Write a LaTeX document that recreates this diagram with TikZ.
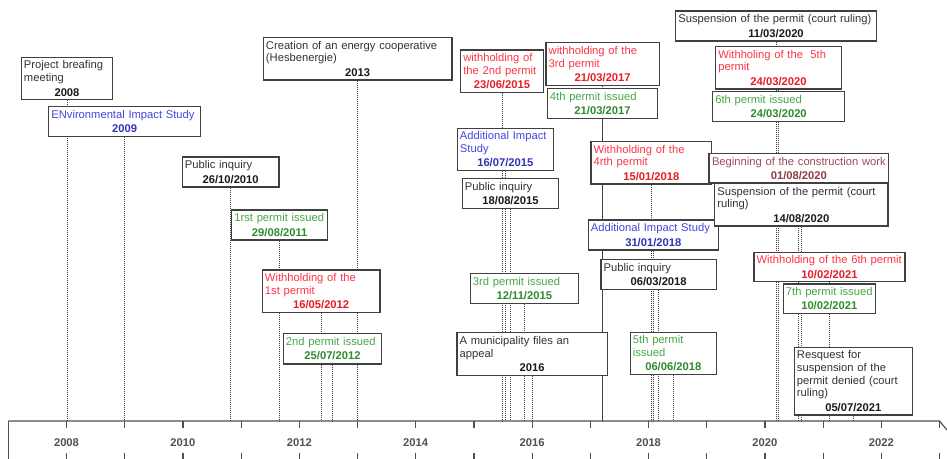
\documentclass[tikz,border=0pt]{standalone}
\usepackage{fontspec}
\setmainfont{Liberation Sans}
\pgfdeclarelayer{bg}
\pgfsetlayers{bg,main}
\definecolor{boxc}{HTML}{404040}
\definecolor{axc}{HTML}{505050}
\definecolor{tblack}{HTML}{333333}
\definecolor{dblack}{HTML}{1A1A1A}
\definecolor{tblue}{HTML}{4646DC}
\definecolor{dblue}{HTML}{3232B4}
\definecolor{tred}{HTML}{FF3344}
\definecolor{dred}{HTML}{E81C24}
\definecolor{tgreen}{HTML}{44A844}
\definecolor{dgreen}{HTML}{2E8B2E}
\definecolor{tbrown}{HTML}{A04858}
\definecolor{dbrown}{HTML}{903C44}
\newcommand\evbox[9]{%
  \pgfmathsetmacro\evw{(#4-#2)*0.75}%
  \pgfmathsetmacro\evh{(#5-#3)*0.75}%
  \pgfmathsetmacro\evtw{(#4-#2)*0.75-4}%
  \node[evt,text=#6,minimum width=\evw pt,minimum height=\evh pt,text width=\evtw pt]
    (#1) at ({(#2+#4)/2},{(#3+#5)/2}) {#8\par\vspace{1.3pt}{\centering\bfseries\color{#7}#9\par}};%
}
\begin{document}
\begin{tikzpicture}[x=0.75pt,y=-0.75pt,
  evt/.style={draw=boxc,fill=white,line width=0.85pt,rectangle,inner xsep=2pt,inner ysep=1pt,
    align=left,font=\fontsize{8.4}{9.5}\selectfont},
  dotline/.style={draw=boxc,line width=0.7pt,dash pattern=on 0.75pt off 0.75pt},
  axline/.style={draw=axc,line width=0.9pt},
  yearlab/.style={text=axc,font=\fontsize{8.4}{10}\selectfont\bfseries,inner sep=0pt}]
\useasboundingbox (0,0) rectangle (947,459);

% event boxes: name, left, top, right, bottom, text colour, date colour, text, date
\evbox{pbm}{21.3}{57.3}{112.7}{99.7}{tblack}{dblack}{Project breafing\\meeting}{2008}
\evbox{eis}{48.7}{106.7}{200.7}{136.7}{tblue}{dblue}{ENvironmental Impact Study}{2009}
\evbox{ceco}{263.3}{37.7}{452}{80}{tblack}{dblack}{Creation of an energy cooperative\\(Hesbenergie)}{2013}
\evbox{pia}{182.3}{157}{279}{187}{tblack}{dblack}{Public inquiry}{26/10/2010}
\evbox{pma}{231.7}{210}{327.7}{240}{tgreen}{dgreen}{1rst permit issued}{29/08/2011}
\evbox{wha}{262.3}{270}{380}{312.7}{tred}{dred}{Withholding of the\\1st permit}{16/05/2012}
\evbox{pmb}{283.3}{333.3}{381.7}{364}{tgreen}{dgreen}{2nd permit issued}{25/07/2012}
\evbox{whb}{460.7}{50}{543.3}{92.3}{tred}{dred}{withholding of\\the 2nd permit}{23/06/2015}
\evbox{aisa}{457.3}{128.3}{553.3}{170.7}{tblue}{dblue}{Additional Impact\\Study}{16/07/2015}
\evbox{pib}{462.3}{178.3}{558.7}{208.7}{tblack}{dblack}{Public inquiry}{18/08/2015}
\evbox{pmc}{470.3}{273.3}{578.3}{303.3}{tgreen}{dgreen}{3rd permit issued}{12/11/2015}
\evbox{mun}{457}{332.7}{607.3}{375.3}{tblack}{dblack}{A municipality files an\\appeal}{2016}
\evbox{whc}{546}{42.7}{659.3}{85.3}{tred}{dred}{withholding of the\\3rd permit}{21/03/2017}
\evbox{pmd}{547.3}{88.3}{657.7}{118.3}{tgreen}{dgreen}{4th permit issued}{21/03/2017}
\evbox{whd}{591}{141.7}{711.7}{184}{tred}{dred}{Withholding of the\\4rth permit}{15/01/2018}
\evbox{aisb}{588.3}{220}{718.3}{250}{tblue}{dblue}{Additional Impact Study}{31/01/2018}
\evbox{pic}{601}{259.3}{716.3}{289.3}{tblack}{dblack}{Public inquiry}{06/03/2018}
\evbox{pme}{630.3}{332.3}{716.3}{374.7}{tgreen}{dgreen}{5th permit\\issued}{06/06/2018}
\evbox{spa}{675.7}{11}{876.3}{41}{tblack}{dblack}{Suspension of the permit (court ruling)}{11/03/2020}
\evbox{whe}{715.7}{46.7}{841.3}{89}{tred}{dred}{Withholing of the\ \ 5th\\permit}{24/03/2020}
\evbox{pmf}{712.7}{91.3}{844.7}{121.3}{tgreen}{dgreen}{6th permit issued}{24/03/2020}
\evbox{bcw}{709}{153.7}{888.7}{183}{tbrown}{dbrown}{\centering Beginning of the construction work}{01/08/2020}
\evbox{spb}{714.7}{183.7}{888}{226}{tblack}{dblack}{Suspension of the permit (court\\ruling)}{14/08/2020}
\evbox{whf}{754}{252.3}{905}{281.7}{tred}{dred}{Withholding of the 6th permit}{10/02/2021}
\evbox{pmg}{783.3}{284}{875.3}{313.7}{tgreen}{dgreen}{7th permit issued}{10/02/2021}
\evbox{req}{794.3}{347.3}{912.3}{415}{tblack}{dblack}{Resquest for\\suspension of the\\permit denied (court\\ruling)}{05/07/2021}

% axis
\coordinate (axL) at (8.3,421);
\coordinate (axR) at (939.5,421);
\coordinate (axD) at (947,430);
\draw[axline] (axL) -- (axR) -- (axD);
\draw[axline] (8.3,421) -- (8.3,459);
\foreach \k in {1,...,16}{
  \pgfmathsetmacro\xx{8.3+58.2*\k}
  \draw[axline] (\xx,421) -- (\xx,428);
  \draw[axline] (\xx,453) -- (\xx,459);
}
\foreach \yr/\k in {2008/1,2010/3,2012/5,2014/7,2016/9,2018/11,2020/13,2022/15}{
  \pgfmathsetmacro\xx{8.3+58.2*\k}
  \node[yearlab] (y\yr) at (\xx,443) {\yr};
}

% dotted connectors from each box down to the axis
\begin{pgfonlayer}{bg}
\foreach \n in {pbm,eis,ceco,pia,pma,wha,pmb,whb,aisa,pib,pmc,mun,whc,pmd,whd,aisb,pic,pme,spa,whe,pmf,bcw,spb,whf,pmg,req}{
  \draw[dotline] (\n.south) -- (\n.south |- axL);
}
\end{pgfonlayer}
\end{tikzpicture}
\end{document}
